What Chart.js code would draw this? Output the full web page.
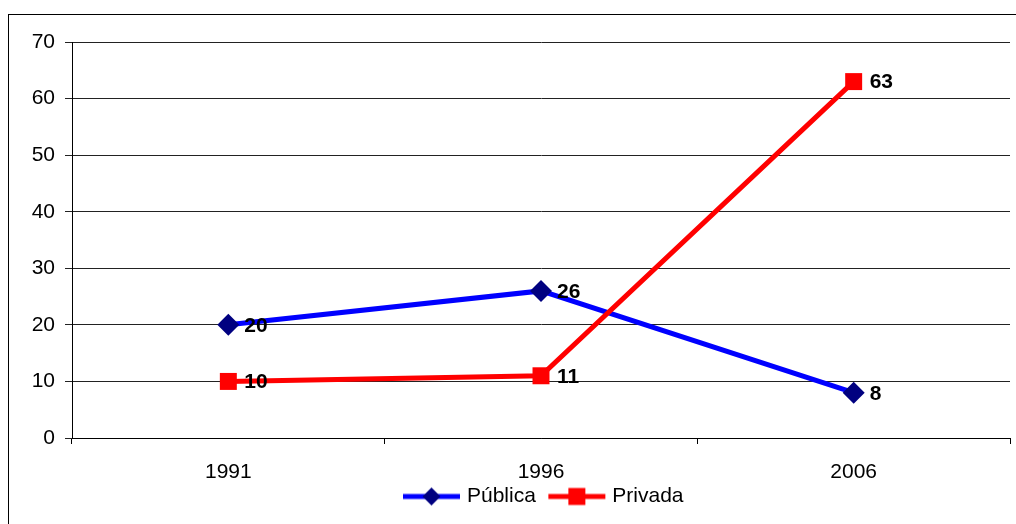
<!DOCTYPE html>
<html>
<head>
<meta charset="utf-8">
<script src="https://cdn.jsdelivr.net/npm/chart.js@4.4.0/dist/chart.umd.min.js"></script>
<style>
  html, body { margin: 0; padding: 0; background: #fff; overflow: hidden; }
  #wrap { position: relative; width: 1016px; height: 524px; }
  #frame { position: absolute; left: 8px; top: 14px; width: 1100px; height: 600px; border: 1px solid #000; box-sizing: border-box; }
  canvas { position: absolute; left: 0; top: 0; }
</style>
</head>
<body>
<div id="wrap">
  <div id="frame"></div>
  <canvas id="grafico" width="1016" height="524"></canvas>
</div>
<script>
// anos e valores das duas séries
const anos = ["1991", "1996", "2006"];
const publica = [20, 26, 8];
const privada = [10, 11, 63];
const yTicks = [0, 10, 20, 30, 40, 50, 60, 70];

const AZUL = "#0000FF";
const MARINHO = "#000080";
const VERMELHO = "#FF0000";
const FONTE = "'Liberation Sans', Arial, sans-serif";

// ícone da legenda: linha com marcador ao centro (margem transparente à esquerda)
function iconeLegenda(corLinha, corMarca, forma) {
    const m = 9;
    const c = document.createElement("canvas");
    c.width = 58 + m;
    c.height = 20;
    const ctx = c.getContext("2d");
    ctx.translate(m, 0);
    ctx.strokeStyle = corLinha;
    ctx.lineWidth = 5;
    ctx.beginPath();
    ctx.moveTo(0, 10);
    ctx.lineTo(57, 10);
    ctx.stroke();
    ctx.fillStyle = corMarca;
    ctx.beginPath();
    if (forma === "diamante") {
        ctx.moveTo(28.5, 1);
        ctx.lineTo(37.5, 10);
        ctx.lineTo(28.5, 19);
        ctx.lineTo(19.5, 10);
        ctx.closePath();
    } else {
        ctx.rect(20, 1.5, 17, 17);
    }
    ctx.fill();
    return c;
}

const iconePublica = iconeLegenda(AZUL, MARINHO, "diamante");
const iconePrivada = iconeLegenda(VERMELHO, VERMELHO, "quadrado");

// rótulos de valor à direita de cada ponto
const rotulosValores = {
    id: "rotulosValores",
    afterDatasetsDraw(chart) {
        const ctx = chart.ctx;
        ctx.save();
        ctx.font = "bold 21px " + FONTE;
        ctx.fillStyle = "#000";
        ctx.textAlign = "left";
        ctx.textBaseline = "middle";
        chart.data.datasets.forEach((ds, i) => {
            const meta = chart.getDatasetMeta(i);
            meta.data.forEach((pt, j) => {
                ctx.fillText(String(ds.data[j]), pt.x + 16, pt.y + 1);
            });
        });
        ctx.restore();
    }
};

Chart.defaults.font.family = FONTE;
Chart.defaults.font.size = 21;
Chart.defaults.color = "#000";

new Chart(document.getElementById("grafico"), {
    type: "line",
    data: {
        labels: anos,
        datasets: [
            {
                label: "Privada",
                data: privada,
                borderColor: VERMELHO,
                backgroundColor: VERMELHO,
                borderWidth: 5,
                pointStyle: "rect",
                pointRadius: 12,
                pointBorderWidth: 0,
                pointBackgroundColor: VERMELHO,
                tension: 0
            },
            {
                label: "Pública",
                data: publica,
                borderColor: AZUL,
                backgroundColor: MARINHO,
                borderWidth: 5,
                pointStyle: "rectRot",
                pointRadius: 11,
                pointBorderWidth: 0,
                pointBackgroundColor: MARINHO,
                tension: 0
            }
        ]
    },
    options: {
        responsive: false,
        animation: false,
        layout: { autoPadding: false, padding: { left: 0, right: 6, top: 42, bottom: 7 } },
        plugins: {
            tooltip: { enabled: false },
            legend: {
                position: "bottom",
                fullSize: false,
                reverse: true,
                labels: {
                    usePointStyle: true,
                    pointStyleWidth: 58,
                    padding: 8,
                    font: { size: 21 },
                    generateLabels(chart) {
                        return chart.data.datasets.map((ds, i) => ({
                            text: ds.label,
                            pointStyle: ds.label === "Pública" ? iconePublica : iconePrivada,
                            datasetIndex: i,
                            hidden: false,
                            lineWidth: 0,
                            fillStyle: "transparent",
                            strokeStyle: "transparent"
                        }));
                    }
                }
            }
        },
        scales: {
            x: {
                offset: true,
                afterFit(scale) { scale.height = 40; },
                border: { color: "#000", width: 1 },
                grid: { offset: true, drawOnChartArea: false, drawTicks: true, tickLength: 6, color: "#000" },
                ticks: { padding: 16, font: { size: 21 } }
            },
            y: {
                min: 0,
                max: 70,
                afterFit(scale) { scale.width = 72; },
                afterBuildTicks(scale) { scale.ticks = yTicks.map(v => ({ value: v })); },
                border: { color: "#000", width: 1 },
                grid: { color: "#222", lineWidth: 1, tickLength: 7 },
                ticks: { padding: 10, font: { size: 21 } }
            }
        }
    },
    plugins: [rotulosValores]
});
</script>
</body>
</html>
